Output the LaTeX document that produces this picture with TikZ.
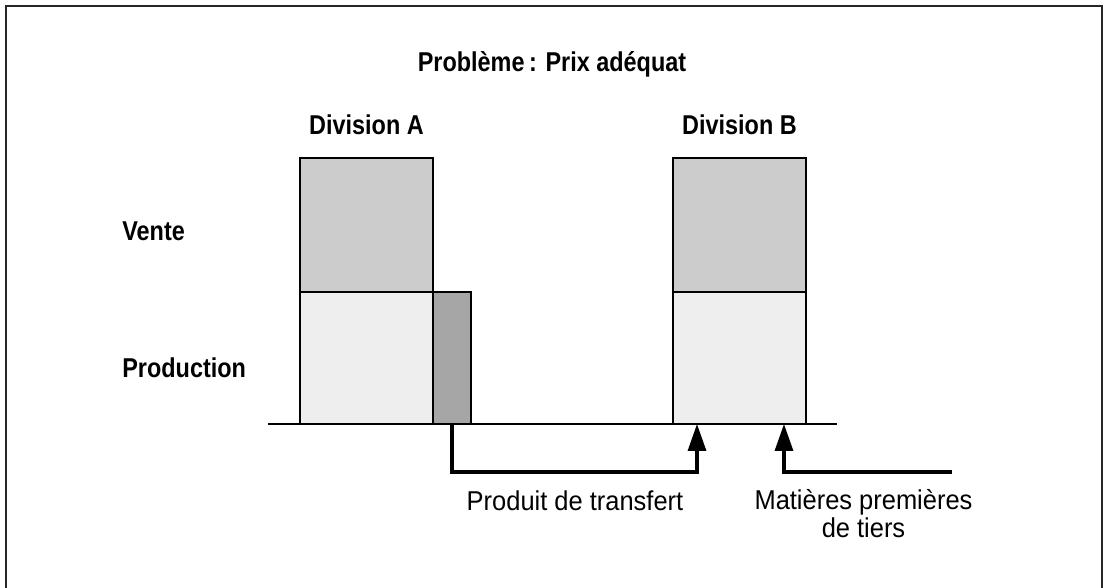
\documentclass[tikz,border=0pt]{standalone}
\usepackage{fontspec}
\setmainfont{Liberation Sans}[UprightFeatures={FakeStretch=0.935}, BoldFeatures={FakeStretch=0.86}]
\usetikzlibrary{arrows.meta,positioning}

\definecolor{venteGray}{HTML}{CCCCCC}
\definecolor{prodGray}{HTML}{EEEEEE}
\definecolor{transGray}{HTML}{A6A6A6}

\begin{document}
\begin{tikzpicture}[x=0.02cm, y=-0.02cm,
    block/.style={draw, line width=0.8pt, inner sep=0pt, outer sep=0pt, minimum width=2.66cm},
    vente/.style={block, fill=venteGray, minimum height=2.68cm},
    prod/.style={block, fill=prodGray, minimum height=2.64cm},
    transfer/.style={block, fill=transGray, minimum width=0.76cm, minimum height=2.64cm},
    txt/.style={font=\fontsize{15.5}{14.2}\selectfont, inner sep=0pt, anchor=base},
    headtxt/.style={txt, font=\fontsize{15.5}{14.2}\selectfont\bfseries},
    flow/.style={line width=1.8pt, -{Triangle[width=0.36cm, length=0.54cm]}}]

  \useasboundingbox (0,0) rectangle (1103,588);
  \draw[line width=1.2pt, draw=black!85] (6,592) -- (6,6) -- (1102,6) -- (1102,592);

  \node[headtxt] (title) at (552,72) {Problème\,: Prix adéquat};

  % the two divisions
  \node[vente] (venteA) at (366.5,225) {};
  \node[prod, below=0pt of venteA] (prodA) {};
  \node[transfer, right=0pt of prodA] (transA) {};
  \node[vente] (venteB) at (739.5,225) {};
  \node[prod, below=0pt of venteB] (prodB) {};

  \foreach \d in {A,B}
    \node[headtxt] (div\d) at ([yshift=0.48cm]vente\d.north) {Division \d};

  \node[headtxt, anchor=base west] (vente) at (122,240) {Vente};
  \node[headtxt, anchor=base west] (production) at (122,377) {Production};

  \coordinate (groundL) at (268,424);
  \coordinate (groundR) at (837,424);
  \draw[line width=0.8pt] (groundL) -- (groundR);

  % flows into division B
  \coordinate (inB1) at ([xshift=0.48cm]prodB.south west);
  \coordinate (inB2) at ([xshift=2.22cm]prodB.south west);
  \coordinate (tiers) at (952,472);
  \draw[flow] (transA.south) -- ++(0,48) -| (inB1);
  \draw[flow] (tiers) -| (inB2);

  \node[txt] (transfert) at (575,510) {Produit de transfert};
  \node[txt, align=center] (matieres) at (863.5,537) {Matières premières\\de tiers};

\end{tikzpicture}
\end{document}
